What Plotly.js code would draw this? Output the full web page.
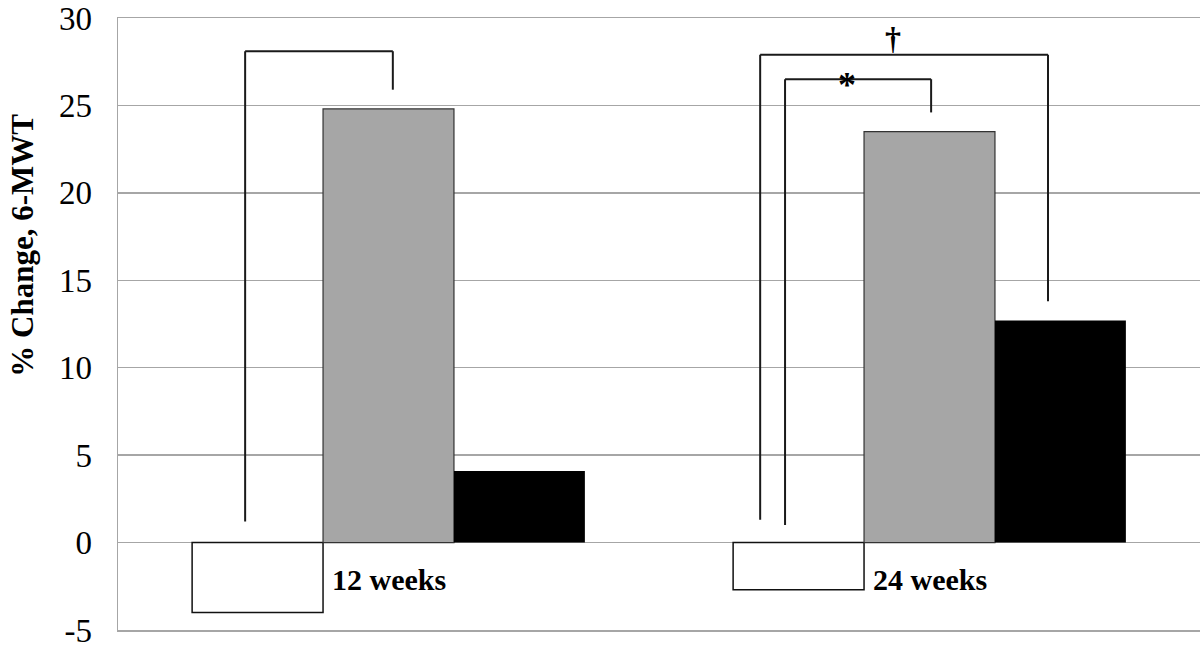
<!DOCTYPE html>
<html>
<head>
<meta charset="utf-8">
<script src="https://cdn.plot.ly/plotly-3.0.1.min.js"></script>
<style>
  html, body { margin: 0; padding: 0; background: #fff; }
  #chart { width: 1200px; height: 649px; }
</style>
</head>
<body>
<div id="chart"></div>
<script>
// ---- data ----
var categories = ['12 weeks', '24 weeks'];
var whiteSeries = [-4.0, -2.7];
var graySeries = [24.8, 23.5];
var blackSeries = [4.1, 12.7];
var yTickValues = [-5, 0, 5, 10, 15, 20, 25, 30];
var yTitle = '% Change, 6-MWT';

// significance brackets: group index, right end bar, left end low, level, marker
var bracketGroups = [0, 1, 1];
var bracketRightBar = ['gray', 'gray', 'black'];
var bracketLeftLow = [1.2, 1.0, 1.3];
var bracketTop = [28.1, 26.5, 27.9];
var bracketMarks = ['', '*', '\u2020'];

var serif = '"Liberation Serif", "Times New Roman", serif';
var bargap = 0.274;
var bw = (1 - bargap) / 3;

var traces = [
  { type: 'bar', x: categories, y: whiteSeries, name: 'Control',
    marker: { color: '#ffffff', line: { color: '#111111', width: 1.5 } }, hoverinfo: 'y' },
  { type: 'bar', x: categories, y: graySeries, name: 'Group 2',
    marker: { color: '#a6a6a6', line: { color: '#333333', width: 1.2 } }, hoverinfo: 'y' },
  { type: 'bar', x: categories, y: blackSeries, name: 'Group 3',
    marker: { color: '#000000', line: { color: '#000000', width: 0 } }, hoverinfo: 'y' }
];

var series = { white: whiteSeries, gray: graySeries, black: blackSeries };
var barOffset = { white: -bw, gray: 0, black: bw };

var shapes = [];
var annotations = [];
var lineStyle = { color: '#1a1a1a', width: 2 };
var leftOffsets = [-0.265, -0.267, -0.313];
var rightAdjust = [0.008, 0.003, -0.023];

for (var i = 0; i < bracketGroups.length; i++) {
  var g = bracketGroups[i];
  var rb = bracketRightBar[i];
  var xl = g + leftOffsets[i];
  var xr = g + barOffset[rb] + rightAdjust[i];
  var yr = series[rb][g] + 1.1;
  shapes.push({ type: 'line', xref: 'x', yref: 'y', x0: xl, x1: xl, y0: bracketLeftLow[i], y1: bracketTop[i], line: lineStyle });
  shapes.push({ type: 'line', xref: 'x', yref: 'y', x0: xl, x1: xr, y0: bracketTop[i], y1: bracketTop[i], line: lineStyle });
  shapes.push({ type: 'line', xref: 'x', yref: 'y', x0: xr, x1: xr, y0: bracketTop[i], y1: yr, line: lineStyle });
  if (bracketMarks[i] === '*') {
    annotations.push({ x: (xl + xr) / 2 - 0.02, y: bracketTop[i], xref: 'x', yref: 'y', text: '<b>*</b>',
      showarrow: false, font: { family: serif, size: 36, color: '#000' }, yanchor: 'middle', yshift: -6 });
  } else if (bracketMarks[i]) {
    annotations.push({ x: (xl + xr) / 2 - 0.02, y: bracketTop[i], xref: 'x', yref: 'y', text: '<b>' + bracketMarks[i] + '</b>',
      showarrow: false, font: { family: serif, size: 32, color: '#000' }, yanchor: 'bottom', yshift: -3 });
  }
}

categories.forEach(function (c) {
  annotations.push({ x: c, y: 0, xref: 'x', yref: 'y', text: '<b>' + c + '</b>', showarrow: false,
    font: { family: serif, size: 30, color: '#000' }, yanchor: 'top', yshift: -18 });
});

// y-axis title placed as rotated annotation
annotations.push({ xref: 'paper', yref: 'paper', x: -0.0878, y: 0.628, xanchor: 'center', yanchor: 'middle',
  textangle: -90, text: '<b>' + yTitle + '</b>', showarrow: false,
  font: { family: serif, size: 31, color: '#000' } });

var layout = {
  width: 1200, height: 649,
  margin: { l: 118, r: 0, t: 18, b: 19, pad: 0 },
  paper_bgcolor: '#ffffff', plot_bgcolor: '#ffffff',
  showlegend: false,
  barmode: 'group', bargap: bargap, bargroupgap: 0,
  xaxis: { type: 'category', showticklabels: false, showgrid: false, zeroline: false,
    showline: true, mirror: true, linecolor: '#a6a6a6', linewidth: 1.5, ticks: '', fixedrange: true },
  yaxis: {
    range: [-5, 30], tickvals: yTickValues, ticktext: yTickValues.map(String),
    showgrid: true, gridcolor: '#a6a6a6', gridwidth: 1.5,
    zeroline: true, zerolinecolor: '#a6a6a6', zerolinewidth: 1.5,
    showline: true, linecolor: '#a6a6a6', linewidth: 1.5,
    ticks: '', ticklabelstandoff: 18,
    tickfont: { family: serif, size: 33, color: '#000' },
    automargin: false, fixedrange: true
  },
  shapes: shapes,
  annotations: annotations
};

Plotly.newPlot('chart', traces, layout, { displayModeBar: false, staticPlot: true });
</script>
</body>
</html>
